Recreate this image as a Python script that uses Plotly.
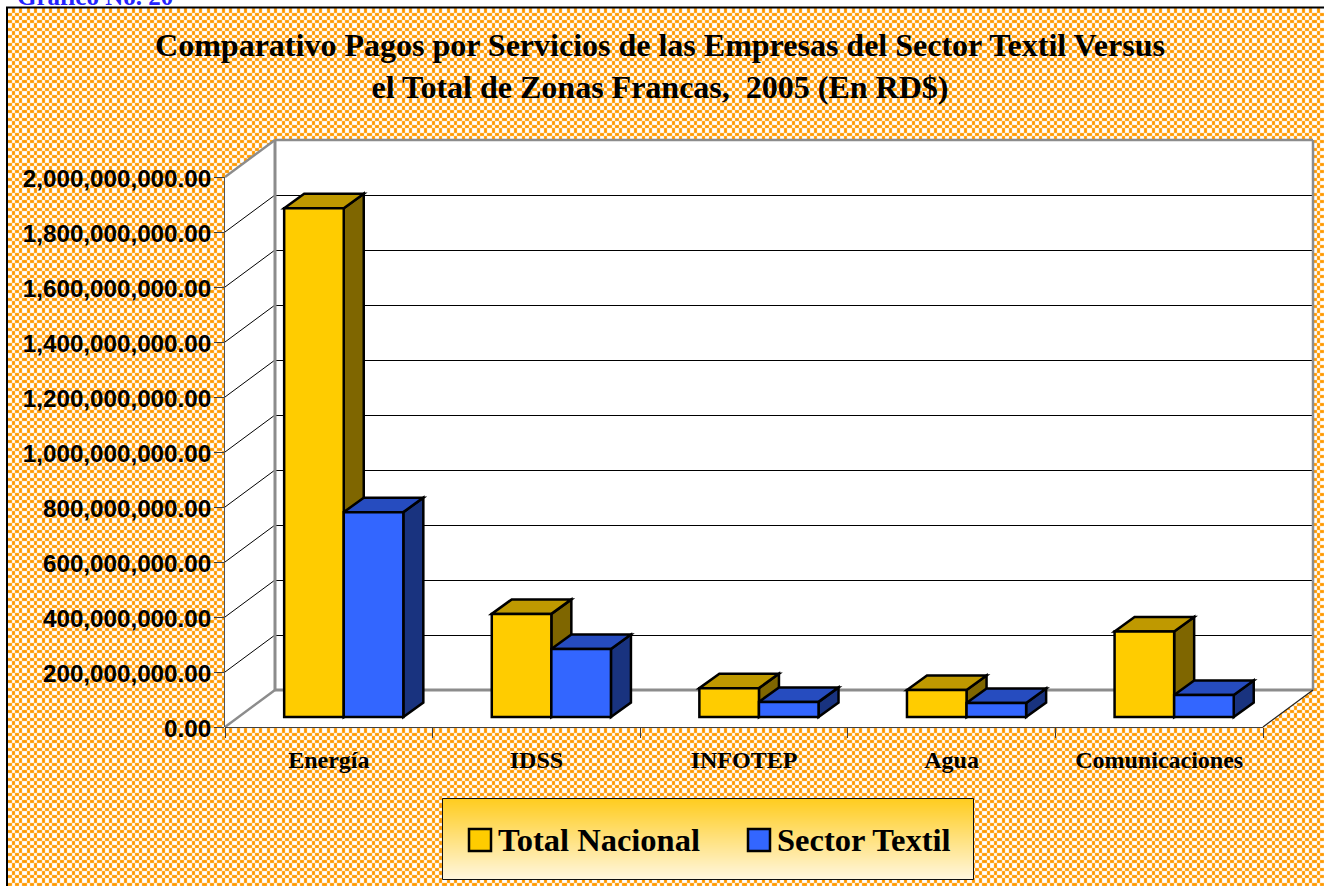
import base64, zlib, struct
import numpy as np
import plotly.graph_objects as go

# ---- data ----
categories = ["Energía", "IDSS", "INFOTEP", "Agua", "Comunicaciones"]
total_nacional = [1850e6, 375e6, 105e6, 98e6, 311e6]
sector_textil = [745e6, 247e6, 55e6, 51e6, 80e6]
y_ticks = [0, 2e8, 4e8, 6e8, 8e8, 10e8, 12e8, 14e8, 16e8, 18e8, 20e8]
y_labels = ["0.00", "200,000,000.00", "400,000,000.00", "600,000,000.00", "800,000,000.00",
            "1,000,000,000.00", "1,200,000,000.00", "1,400,000,000.00", "1,600,000,000.00",
            "1,800,000,000.00", "2,000,000,000.00"]
series_names = ["Total Nacional", "Sector Textil"]
title_lines = ["Comparativo Pagos por Servicios de las Empresas del Sector Textil Versus",
               "el Total de Zonas Francas,  2005 (En RD$)"]
header = "Gráfico No. 20"

# ---- styling / layout ----
W, H = 1324, 886
L, R, T, B = 225, 1324, 130, 727
PX_PER_CAT = 207.6
PX_PER_UNIT = 550 / 2e9
x_range = [0, (R - L) / PX_PER_CAT]
y_range = [0, (B - T) / PX_PER_UNIT]
WALL_DX, WALL_DY = 50 / PX_PER_CAT, 37 / PX_PER_UNIT
BAR_DX, BAR_DY = 20 / PX_PER_CAT, 14.5 / PX_PER_UNIT
BASE = 10 / PX_PER_UNIT
NUDGE = 0.5 / PX_PER_UNIT
BAR_W = 0.287
OFFS = [-0.215, 0.072]
COL = [dict(front="#FFCC00", top="#BF9900", side="#7F6600"),
       dict(front="#3366FF", top="#264CBF", side="#19337F")]
SERIF = "Liberation Serif"
SANS = "Liberation Sans"
GREY = "#8C8C8C"
AXC = "#404040"
pos = [i + 0.5 for i in range(len(categories))]


def png_uri(rgb):
    h, w, _ = rgb.shape
    raw = b"".join(b"\x00" + rgb[r].tobytes() for r in range(h))

    def chunk(t, d):
        return struct.pack(">I", len(d)) + t + d + struct.pack(">I", zlib.crc32(t + d) & 0xffffffff)

    data = b"\x89PNG\r\n\x1a\n" + chunk(b"IHDR", struct.pack(">IIBBBBB", w, h, 8, 2, 0, 0, 0)) \
        + chunk(b"IDAT", zlib.compress(raw)) + chunk(b"IEND", b"")
    return "data:image/png;base64," + base64.b64encode(data).decode()


def checker(w, h):
    cells = [5, 3, 4, 3]
    period = sum(cells)
    seq = np.concatenate([np.full(c, i) for i, c in enumerate(cells)])

    def idx(n):
        k = np.arange(n)
        return seq[k % period]

    a = ((idx(h)[:, None] + idx(w)[None, :]) % 2).astype(float)
    kernel = np.array([0.1, 0.8, 0.1])
    a = np.apply_along_axis(lambda v: np.convolve(v, kernel, mode="same"), 0, a)
    a = np.apply_along_axis(lambda v: np.convolve(v, kernel, mode="same"), 1, a)
    c0 = np.array([255, 153, 0.0])
    c1 = np.array([255, 255, 255.0])
    return (a[..., None] * c0 + (1 - a[..., None]) * c1).round().astype(np.uint8)


def gradient(w, h):
    t = np.linspace(0, 1, h)[:, None, None]
    top, bottom = np.array([255, 204, 30.0]), np.array([255, 246, 220.0])
    return np.tile(top + (bottom - top) * t, (1, w, 1)).round().astype(np.uint8)


def px(x):
    return (x - L) / (R - L)


def py(y):
    return (B - y) / (B - T)


def poly(points, fill, line="black", width=2.5):
    path = "M" + " L".join(f"{a},{b}" for a, b in points) + " Z"
    return dict(type="path", xref="x", yref="y", layer="below", path=path, fillcolor=fill,
                line=dict(color=line, width=width))


def seg(x0, y0, x1, y1, color, width):
    return dict(type="line", xref="x", yref="y", layer="below", x0=x0, y0=y0, x1=x1, y1=y1,
                line=dict(color=color, width=width))


def pseg(x0, y0, x1, y1, color, width, layer="below"):
    return dict(type="line", xref="paper", yref="paper", layer=layer, x0=px(x0), y0=py(y0), x1=px(x1), y1=py(y1),
                line=dict(color=color, width=width))


top_val, n = y_ticks[-1], len(categories)
shapes = []
# walls + floor
shapes.append(dict(type="path", xref="x", yref="y", layer="below", fillcolor="white", line=dict(width=0),
                   path=f"M0,0 L0,{top_val} L{WALL_DX},{top_val + WALL_DY} L{n + WALL_DX},{top_val + WALL_DY} "
                        f"L{n + WALL_DX},{WALL_DY} L{n},0 Z"))
for v in y_ticks[1:-1]:
    shapes.append(seg(WALL_DX, v + WALL_DY - NUDGE, n + WALL_DX, v + WALL_DY - NUDGE, "black", 1))
    shapes.append(seg(0, v, WALL_DX, v + WALL_DY, "black", 1))
shapes.append(seg(0, top_val, WALL_DX, top_val + WALL_DY, GREY, 2.5))
shapes.append(seg(WALL_DX, top_val + WALL_DY, n + WALL_DX, top_val + WALL_DY, GREY, 2.5))
shapes.append(seg(WALL_DX, WALL_DY, WALL_DX, top_val + WALL_DY, GREY, 3))
shapes.append(seg(n + WALL_DX, WALL_DY, n + WALL_DX, top_val + WALL_DY, GREY, 2.5))
shapes.append(seg(WALL_DX, WALL_DY, n + WALL_DX, WALL_DY, GREY, 3))
shapes.append(seg(0, 0, WALL_DX, WALL_DY, GREY, 2.5))
shapes.append(seg(n, 0, n + WALL_DX, WALL_DY, "#222222", 1.2))
shapes.append(pseg(L, B, L, 177, "#555555", 2))
shapes.append(pseg(L, B, 1263, B, AXC, 2))
# bar side/top faces, derived from the values
for i, p in enumerate(pos):
    for s, vals in enumerate([total_nacional, sector_textil]):
        x0 = p + OFFS[s]
        x1 = x0 + BAR_W
        y0 = BASE
        y1 = BASE + vals[i]
        shapes.append(poly([(x1, y0), (x1 + BAR_DX, y0 + BAR_DY), (x1 + BAR_DX, y1 + BAR_DY), (x1, y1)], COL[s]["side"]))
        shapes.append(poly([(x0, y1), (x0 + BAR_DX, y1 + BAR_DY), (x1 + BAR_DX, y1 + BAR_DY), (x1, y1)], COL[s]["top"]))

# legend swatches and frame
LEG = (442, 798, 973, 879)
swatches = [(469, 491, COL[0]["front"]), (748, 770, COL[1]["front"])]
for a, b, c in swatches:
    shapes.append(dict(type="rect", xref="paper", yref="paper", layer="above", x0=px(a), x1=px(b), y0=py(851), y1=py(829),
                       fillcolor=c, line=dict(color="black", width=2.5)))
shapes.append(dict(type="rect", xref="paper", yref="paper", layer="above", x0=px(LEG[0] + 0.5), x1=px(LEG[2] + 0.5),
                   y0=py(LEG[3] + 0.5), y1=py(LEG[1] + 0.5), line=dict(color="#111111", width=1)))
shapes.append(pseg(7, 7, 7, H, "black", 2))
shapes.append(pseg(6, 7.5, W, 7.5, "black", 2))

images = [
    dict(source=png_uri(checker(W - 7, H - 8)), xref="paper", yref="paper", x=px(7), y=py(8), sizex=(W - 7) / (R - L),
         sizey=(H - 8) / (B - T), xanchor="left", yanchor="top", sizing="stretch", layer="below"),
    dict(source=png_uri(gradient(LEG[2] - LEG[0], LEG[3] - LEG[1])), xref="paper", yref="paper", x=px(LEG[0]), y=py(LEG[1]),
         sizex=(LEG[2] - LEG[0]) / (R - L), sizey=(LEG[3] - LEG[1]) / (B - T), xanchor="left", yanchor="top",
         sizing="stretch", layer="below"),
]

fig = go.Figure()
for s, (name, vals) in enumerate(zip(series_names, [total_nacional, sector_textil])):
    fig.add_trace(go.Bar(x=pos, y=vals, base=BASE, name=name, width=BAR_W, offset=OFFS[s],
                         marker=dict(color=COL[s]["front"], line=dict(color="black", width=2.5)),
                         showlegend=False, hoverinfo="x+y"))

annotations = [
    dict(text=f"<b>{header}</b>", xref="paper", yref="paper", x=px(15), y=py(12), xanchor="left", yanchor="bottom",
         showarrow=False, font=dict(family=SERIF, size=25, color="#2323FF")),
    dict(text=f"<b>{series_names[0]}</b>", xref="paper", yref="paper", x=px(496), y=py(840), xanchor="left", yanchor="middle",
         showarrow=False, font=dict(family=SERIF, size=32.5, color="black")),
    dict(text=f"<b>{series_names[1]}</b>", xref="paper", yref="paper", x=px(775), y=py(840), xanchor="left", yanchor="middle",
         showarrow=False, font=dict(family=SERIF, size=32.5, color="black")),
]

fig.update_layout(
    width=W, height=H, margin=dict(l=L, r=W - R, t=T, b=H - B, pad=0), autosize=False,
    paper_bgcolor="white", plot_bgcolor="rgba(0,0,0,0)", barmode="overlay", showlegend=False,
    title=dict(text=f"<b>{title_lines[0]}<br>{title_lines[1]}</b>", x=660 / W, xanchor="center", y=1 - 56 / H, yanchor="middle",
               font=dict(family=SERIF, size=32, color="black")),
    xaxis=dict(range=x_range, tickmode="array", tickvals=pos, ticktext=[f"<b>{c}</b>" for c in categories],
               ticks="", showgrid=False, zeroline=False, showline=False, ticklabelstandoff=16,
               tickfont=dict(family=SERIF, size=24, color="black"),
               minor=dict(tickmode="array", tickvals=list(range(n + 1)), ticks="outside", ticklen=10, tickcolor=AXC,
                          tickwidth=1, showgrid=False)),
    yaxis=dict(range=y_range, tickmode="array", tickvals=y_ticks, ticktext=[f"<b>{t}</b>" for t in y_labels],
               ticks="outside", ticklen=10, tickwidth=1, tickcolor=AXC, showgrid=False, zeroline=False, showline=False,
               ticklabelstandoff=-2, ticklabelshift=2,
               tickfont=dict(family=SANS, size=24.2, color="black")),
    shapes=shapes, images=images, annotations=annotations,
)
fig.write_html("out.html", config=dict(displayModeBar=False),
               post_script="document.body.style.margin='0';document.body.style.overflow='hidden';")
